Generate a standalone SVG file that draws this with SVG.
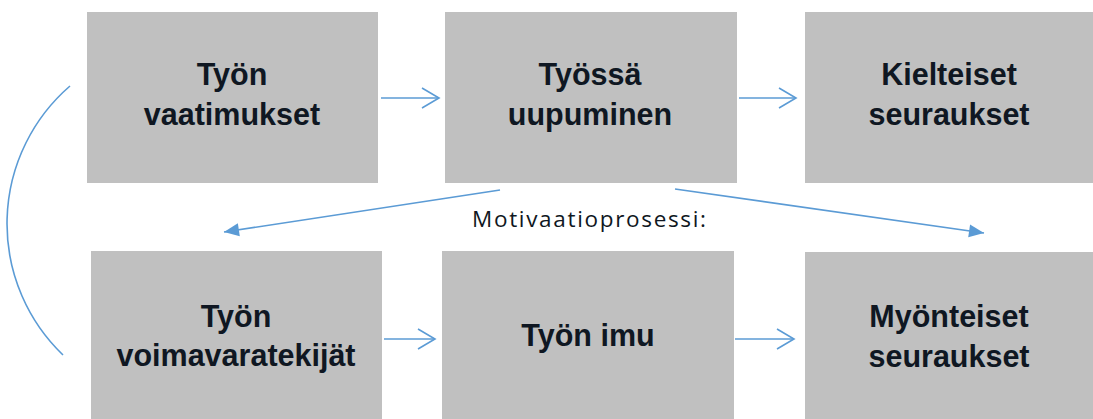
<svg xmlns="http://www.w3.org/2000/svg" width="1093" height="419" viewBox="0 0 1093 419">
<style>
.box{fill:#c0c0c0;}
.lbl{font-family:"Liberation Sans",Arial,sans-serif;font-weight:bold;font-size:30.5px;fill:#0f1722;text-anchor:middle;}
.small{font-family:"Open Sans","Liberation Sans",Arial,sans-serif;font-size:22.5px;fill:#0f1722;}
.con{stroke:#5b9bd5;stroke-width:1.6;fill:none;}
</style>
<defs>
<marker id="open" markerUnits="userSpaceOnUse" viewBox="-20 -12 22 24" markerWidth="22" markerHeight="24" refX="0" refY="0" orient="auto">
<path d="M-17,-10 L0,0 L-17,10" fill="none" stroke="#5b9bd5" stroke-width="1.6"/>
</marker>
<marker id="tri" markerUnits="userSpaceOnUse" viewBox="-16 -8 18 16" markerWidth="18" markerHeight="16" refX="0" refY="0" orient="auto">
<path d="M-15,-6.5 L0,0 L-15,6.5 Z" fill="#5b9bd5"/>
</marker>
</defs>
<g id="connectors">
<line class="con" x1="381" y1="98" x2="439" y2="98" marker-end="url(#open)"/>
<line class="con" x1="739" y1="98" x2="796" y2="98" marker-end="url(#open)"/>
<line class="con" x1="384" y1="339" x2="435" y2="339" marker-end="url(#open)"/>
<line class="con" x1="735" y1="339" x2="794" y2="339" marker-end="url(#open)"/>
<line class="con" x1="500" y1="190" x2="224" y2="232" marker-end="url(#tri)"/>
<line class="con" x1="675" y1="189" x2="984" y2="233" marker-end="url(#tri)"/>
<path class="con" d="M70,86 A182,182 0 0 0 63,355"/>
</g>
<g id="n1">
<rect class="box" x="87" y="12" width="291" height="171"/>
<text class="lbl" x="232" y="85">Työn</text>
<text class="lbl" x="232" y="125">vaatimukset</text>
</g>
<g id="n2">
<rect class="box" x="445" y="12" width="292" height="171"/>
<text class="lbl" x="590" y="85">Työssä</text>
<text class="lbl" x="590" y="125">uupuminen</text>
</g>
<g id="n3">
<rect class="box" x="805" y="12" width="288" height="171"/>
<text class="lbl" x="949" y="85">Kielteiset</text>
<text class="lbl" x="949" y="125">seuraukset</text>
</g>
<g id="n4">
<rect class="box" x="91" y="251" width="291" height="168"/>
<text class="lbl" x="236" y="327">Työn</text>
<text class="lbl" x="236" y="366">voimavaratekijät</text>
</g>
<g id="n5">
<rect class="box" x="442" y="251" width="292" height="168"/>
<text class="lbl" x="588" y="346">Työn imu</text>
</g>
<g id="n6">
<rect class="box" x="805" y="252" width="288" height="167"/>
<text class="lbl" x="949" y="327">Myönteiset</text>
<text class="lbl" x="949" y="367">seuraukset</text>
</g>
<g id="label">
<text class="small" x="472" y="227" textLength="234" lengthAdjust="spacing">Motivaatioprosessi:</text>
</g>
</svg>
